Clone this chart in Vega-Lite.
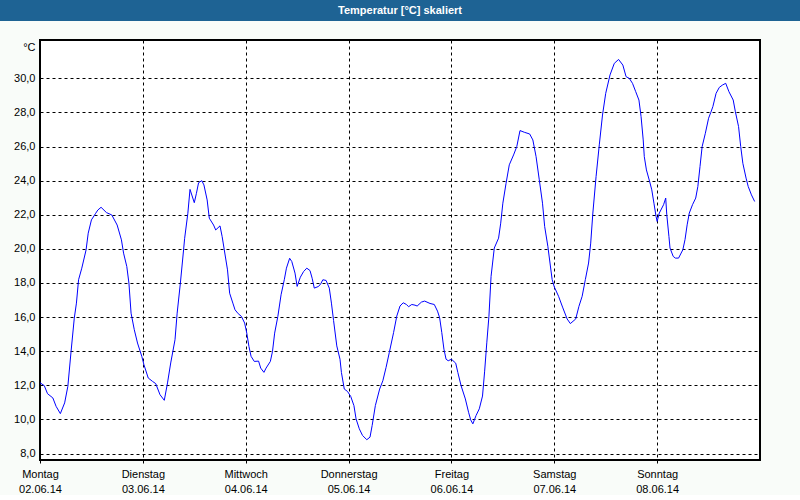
{
  "$schema": "https://vega.github.io/schema/vega-lite/v6.json",
  "padding": 0,
  "background": "#f9fcf9",
  "bounds": "flush",
  "spacing": 19,
  "config": {
    "font": "Liberation Sans",
    "view": {"stroke": null},
    "concat": {"spacing": 0}
  },
  "vconcat": [
    {
      "width": 800,
      "height": 21,
      "view": {"fill": "#1e6394", "stroke": null},
      "data": {"values": [{"titel": "Temperatur [°C] skaliert"}]},
      "mark": {"type": "text", "color": "white", "fontWeight": "bold", "fontSize": 11, "align": "center", "baseline": "middle"},
      "encoding": {"text": {"field": "titel"}}
    },
    {
      "bounds": "flush",
      "spacing": 0,
      "hconcat": [
        {
          "width": 40,
          "height": 420,
          "view": {"stroke": null},
          "data": {"values": [{"leer": ""}]},
          "mark": {"type": "text"},
          "encoding": {"text": {"field": "leer"}}
        },
        {
          "width": 720,
          "height": 420,
          "view": {"fill": "white", "stroke": "black", "strokeWidth": 2},
          "data": {"values": [
            {"t": "2014-06-02T00:00", "v": 12.15},
            {"t": "2014-06-02T01:00", "v": 11.98},
            {"t": "2014-06-02T01:45", "v": 11.51},
            {"t": "2014-06-02T03:00", "v": 11.26},
            {"t": "2014-06-02T03:45", "v": 10.77},
            {"t": "2014-06-02T04:45", "v": 10.34},
            {"t": "2014-06-02T05:45", "v": 10.97},
            {"t": "2014-06-02T06:30", "v": 11.94},
            {"t": "2014-06-02T07:15", "v": 13.99},
            {"t": "2014-06-02T08:00", "v": 15.94},
            {"t": "2014-06-02T08:30", "v": 16.82},
            {"t": "2014-06-02T09:00", "v": 18.19},
            {"t": "2014-06-02T09:45", "v": 18.87},
            {"t": "2014-06-02T10:45", "v": 19.94},
            {"t": "2014-06-02T11:15", "v": 20.92},
            {"t": "2014-06-02T12:00", "v": 21.70},
            {"t": "2014-06-02T13:00", "v": 22.09},
            {"t": "2014-06-02T13:30", "v": 22.28},
            {"t": "2014-06-02T14:15", "v": 22.44},
            {"t": "2014-06-02T15:30", "v": 22.13},
            {"t": "2014-06-02T16:45", "v": 21.99},
            {"t": "2014-06-02T18:00", "v": 21.40},
            {"t": "2014-06-02T19:00", "v": 20.53},
            {"t": "2014-06-02T19:30", "v": 19.75},
            {"t": "2014-06-02T20:15", "v": 18.97},
            {"t": "2014-06-02T20:45", "v": 17.99},
            {"t": "2014-06-02T21:15", "v": 16.23},
            {"t": "2014-06-02T22:00", "v": 15.26},
            {"t": "2014-06-02T22:45", "v": 14.48},
            {"t": "2014-06-02T23:45", "v": 13.70},
            {"t": "2014-06-03T00:15", "v": 13.21},
            {"t": "2014-06-03T01:15", "v": 12.43},
            {"t": "2014-06-03T02:15", "v": 12.23},
            {"t": "2014-06-03T03:00", "v": 12.10},
            {"t": "2014-06-03T04:00", "v": 11.45},
            {"t": "2014-06-03T05:00", "v": 11.12},
            {"t": "2014-06-03T05:45", "v": 12.14},
            {"t": "2014-06-03T06:30", "v": 13.31},
            {"t": "2014-06-03T07:30", "v": 14.67},
            {"t": "2014-06-03T08:00", "v": 16.23},
            {"t": "2014-06-03T08:45", "v": 17.98},
            {"t": "2014-06-03T09:30", "v": 19.94},
            {"t": "2014-06-03T09:45", "v": 20.62},
            {"t": "2014-06-03T10:30", "v": 22.09},
            {"t": "2014-06-03T11:00", "v": 23.49},
            {"t": "2014-06-03T12:00", "v": 22.71},
            {"t": "2014-06-03T12:30", "v": 23.26},
            {"t": "2014-06-03T13:00", "v": 23.88},
            {"t": "2014-06-03T13:45", "v": 24.00},
            {"t": "2014-06-03T14:15", "v": 23.75},
            {"t": "2014-06-03T15:00", "v": 22.87},
            {"t": "2014-06-03T15:30", "v": 21.80},
            {"t": "2014-06-03T16:30", "v": 21.40},
            {"t": "2014-06-03T17:00", "v": 21.11},
            {"t": "2014-06-03T18:00", "v": 21.35},
            {"t": "2014-06-03T18:30", "v": 20.72},
            {"t": "2014-06-03T19:00", "v": 19.94},
            {"t": "2014-06-03T19:45", "v": 18.77},
            {"t": "2014-06-03T20:15", "v": 17.40},
            {"t": "2014-06-03T21:00", "v": 16.82},
            {"t": "2014-06-03T21:30", "v": 16.43},
            {"t": "2014-06-03T22:15", "v": 16.20},
            {"t": "2014-06-03T23:00", "v": 16.04},
            {"t": "2014-06-03T23:45", "v": 15.65},
            {"t": "2014-06-04T00:15", "v": 15.06},
            {"t": "2014-06-04T00:45", "v": 14.28},
            {"t": "2014-06-04T01:15", "v": 13.70},
            {"t": "2014-06-04T02:00", "v": 13.40},
            {"t": "2014-06-04T03:00", "v": 13.42},
            {"t": "2014-06-04T03:30", "v": 13.01},
            {"t": "2014-06-04T04:15", "v": 12.76},
            {"t": "2014-06-04T04:45", "v": 13.01},
            {"t": "2014-06-04T05:45", "v": 13.40},
            {"t": "2014-06-04T06:15", "v": 13.99},
            {"t": "2014-06-04T06:45", "v": 15.06},
            {"t": "2014-06-04T07:30", "v": 16.04},
            {"t": "2014-06-04T08:15", "v": 17.31},
            {"t": "2014-06-04T09:00", "v": 18.19},
            {"t": "2014-06-04T09:30", "v": 18.87},
            {"t": "2014-06-04T10:15", "v": 19.45},
            {"t": "2014-06-04T10:45", "v": 19.26},
            {"t": "2014-06-04T11:30", "v": 18.58},
            {"t": "2014-06-04T12:00", "v": 17.80},
            {"t": "2014-06-04T12:45", "v": 18.34},
            {"t": "2014-06-04T13:30", "v": 18.67},
            {"t": "2014-06-04T14:15", "v": 18.87},
            {"t": "2014-06-04T15:00", "v": 18.73},
            {"t": "2014-06-04T15:30", "v": 18.28},
            {"t": "2014-06-04T16:00", "v": 17.70},
            {"t": "2014-06-04T17:00", "v": 17.80},
            {"t": "2014-06-04T17:30", "v": 17.95},
            {"t": "2014-06-04T18:00", "v": 18.19},
            {"t": "2014-06-04T18:45", "v": 18.15},
            {"t": "2014-06-04T19:30", "v": 17.70},
            {"t": "2014-06-04T20:00", "v": 16.82},
            {"t": "2014-06-04T20:30", "v": 15.80},
            {"t": "2014-06-04T21:15", "v": 14.31},
            {"t": "2014-06-04T22:00", "v": 13.53},
            {"t": "2014-06-04T22:20", "v": 12.75},
            {"t": "2014-06-04T23:00", "v": 11.78},
            {"t": "2014-06-04T23:45", "v": 11.64},
            {"t": "2014-06-05T00:30", "v": 11.35},
            {"t": "2014-06-05T01:15", "v": 10.81},
            {"t": "2014-06-05T01:45", "v": 10.03},
            {"t": "2014-06-05T02:30", "v": 9.45},
            {"t": "2014-06-05T03:15", "v": 9.06},
            {"t": "2014-06-05T04:15", "v": 8.81},
            {"t": "2014-06-05T05:00", "v": 8.96},
            {"t": "2014-06-05T05:30", "v": 9.64},
            {"t": "2014-06-05T06:15", "v": 10.81},
            {"t": "2014-06-05T07:15", "v": 11.78},
            {"t": "2014-06-05T08:00", "v": 12.27},
            {"t": "2014-06-05T08:45", "v": 13.05},
            {"t": "2014-06-05T09:30", "v": 13.92},
            {"t": "2014-06-05T10:30", "v": 15.09},
            {"t": "2014-06-05T11:15", "v": 16.06},
            {"t": "2014-06-05T12:00", "v": 16.65},
            {"t": "2014-06-05T12:45", "v": 16.84},
            {"t": "2014-06-05T13:30", "v": 16.74},
            {"t": "2014-06-05T14:00", "v": 16.61},
            {"t": "2014-06-05T14:45", "v": 16.74},
            {"t": "2014-06-05T15:30", "v": 16.70},
            {"t": "2014-06-05T16:00", "v": 16.65},
            {"t": "2014-06-05T17:00", "v": 16.88},
            {"t": "2014-06-05T17:45", "v": 16.94},
            {"t": "2014-06-05T19:00", "v": 16.80},
            {"t": "2014-06-05T20:00", "v": 16.74},
            {"t": "2014-06-05T20:45", "v": 16.35},
            {"t": "2014-06-05T21:15", "v": 15.96},
            {"t": "2014-06-05T21:45", "v": 15.09},
            {"t": "2014-06-05T22:15", "v": 14.12},
            {"t": "2014-06-05T22:45", "v": 13.53},
            {"t": "2014-06-05T23:15", "v": 13.44},
            {"t": "2014-06-06T00:00", "v": 13.53},
            {"t": "2014-06-06T01:00", "v": 13.30},
            {"t": "2014-06-06T01:30", "v": 12.75},
            {"t": "2014-06-06T02:15", "v": 11.98},
            {"t": "2014-06-06T03:15", "v": 11.20},
            {"t": "2014-06-06T04:00", "v": 10.42},
            {"t": "2014-06-06T04:30", "v": 9.97},
            {"t": "2014-06-06T05:00", "v": 9.74},
            {"t": "2014-06-06T05:45", "v": 10.23},
            {"t": "2014-06-06T06:30", "v": 10.62},
            {"t": "2014-06-06T07:15", "v": 11.37},
            {"t": "2014-06-06T07:45", "v": 12.83},
            {"t": "2014-06-06T08:15", "v": 14.49},
            {"t": "2014-06-06T08:45", "v": 16.05},
            {"t": "2014-06-06T09:15", "v": 18.39},
            {"t": "2014-06-06T10:00", "v": 20.05},
            {"t": "2014-06-06T11:00", "v": 20.63},
            {"t": "2014-06-06T11:30", "v": 21.51},
            {"t": "2014-06-06T12:00", "v": 22.68},
            {"t": "2014-06-06T12:45", "v": 23.85},
            {"t": "2014-06-06T13:30", "v": 24.93},
            {"t": "2014-06-06T14:30", "v": 25.51},
            {"t": "2014-06-06T15:15", "v": 26.00},
            {"t": "2014-06-06T16:00", "v": 26.94},
            {"t": "2014-06-06T17:00", "v": 26.84},
            {"t": "2014-06-06T18:15", "v": 26.74},
            {"t": "2014-06-06T19:00", "v": 26.39},
            {"t": "2014-06-06T19:45", "v": 25.41},
            {"t": "2014-06-06T20:30", "v": 24.05},
            {"t": "2014-06-06T21:15", "v": 22.68},
            {"t": "2014-06-06T21:45", "v": 21.32},
            {"t": "2014-06-06T22:30", "v": 20.15},
            {"t": "2014-06-06T23:00", "v": 19.17},
            {"t": "2014-06-06T23:30", "v": 18.20},
            {"t": "2014-06-07T00:00", "v": 17.77},
            {"t": "2014-06-07T01:00", "v": 17.22},
            {"t": "2014-06-07T02:00", "v": 16.54},
            {"t": "2014-06-07T03:00", "v": 15.89},
            {"t": "2014-06-07T03:45", "v": 15.62},
            {"t": "2014-06-07T05:00", "v": 15.89},
            {"t": "2014-06-07T05:45", "v": 16.63},
            {"t": "2014-06-07T06:30", "v": 17.22},
            {"t": "2014-06-07T07:15", "v": 18.20},
            {"t": "2014-06-07T08:00", "v": 19.17},
            {"t": "2014-06-07T08:30", "v": 20.34},
            {"t": "2014-06-07T09:00", "v": 22.10},
            {"t": "2014-06-07T09:45", "v": 24.24},
            {"t": "2014-06-07T10:30", "v": 26.10},
            {"t": "2014-06-07T11:15", "v": 27.85},
            {"t": "2014-06-07T12:00", "v": 29.12},
            {"t": "2014-06-07T13:00", "v": 30.20},
            {"t": "2014-06-07T14:00", "v": 30.88},
            {"t": "2014-06-07T15:00", "v": 31.11},
            {"t": "2014-06-07T16:00", "v": 30.78},
            {"t": "2014-06-07T16:45", "v": 30.10},
            {"t": "2014-06-07T17:30", "v": 30.00},
            {"t": "2014-06-07T18:15", "v": 29.71},
            {"t": "2014-06-07T19:00", "v": 29.22},
            {"t": "2014-06-07T19:45", "v": 28.73},
            {"t": "2014-06-07T20:15", "v": 27.76},
            {"t": "2014-06-07T20:45", "v": 26.39},
            {"t": "2014-06-07T21:00", "v": 25.41},
            {"t": "2014-06-07T21:30", "v": 24.63},
            {"t": "2014-06-07T22:15", "v": 23.95},
            {"t": "2014-06-07T22:45", "v": 23.46},
            {"t": "2014-06-07T23:15", "v": 22.68},
            {"t": "2014-06-07T23:45", "v": 21.90},
            {"t": "2014-06-08T00:00", "v": 21.61},
            {"t": "2014-06-08T00:30", "v": 22.10},
            {"t": "2014-06-08T01:30", "v": 22.59},
            {"t": "2014-06-08T02:00", "v": 22.98},
            {"t": "2014-06-08T02:15", "v": 22.00},
            {"t": "2014-06-08T02:45", "v": 20.73},
            {"t": "2014-06-08T03:00", "v": 20.05},
            {"t": "2014-06-08T03:45", "v": 19.56},
            {"t": "2014-06-08T04:15", "v": 19.46},
            {"t": "2014-06-08T05:00", "v": 19.46},
            {"t": "2014-06-08T06:00", "v": 19.95},
            {"t": "2014-06-08T06:30", "v": 20.54},
            {"t": "2014-06-08T07:00", "v": 21.41},
            {"t": "2014-06-08T07:30", "v": 22.10},
            {"t": "2014-06-08T08:15", "v": 22.59},
            {"t": "2014-06-08T09:00", "v": 22.98},
            {"t": "2014-06-08T09:30", "v": 23.66},
            {"t": "2014-06-08T10:00", "v": 24.83},
            {"t": "2014-06-08T10:30", "v": 26.00},
            {"t": "2014-06-08T11:15", "v": 26.78},
            {"t": "2014-06-08T12:00", "v": 27.66},
            {"t": "2014-06-08T12:30", "v": 27.99},
            {"t": "2014-06-08T13:00", "v": 28.34},
            {"t": "2014-06-08T13:45", "v": 29.12},
            {"t": "2014-06-08T14:30", "v": 29.47},
            {"t": "2014-06-08T15:15", "v": 29.61},
            {"t": "2014-06-08T16:00", "v": 29.71},
            {"t": "2014-06-08T16:45", "v": 29.22},
            {"t": "2014-06-08T17:45", "v": 28.73},
            {"t": "2014-06-08T18:15", "v": 28.05},
            {"t": "2014-06-08T19:00", "v": 27.17},
            {"t": "2014-06-08T19:30", "v": 26.00},
            {"t": "2014-06-08T20:00", "v": 25.02},
            {"t": "2014-06-08T20:45", "v": 24.15},
            {"t": "2014-06-08T21:15", "v": 23.66},
            {"t": "2014-06-08T22:00", "v": 23.17},
            {"t": "2014-06-08T22:45", "v": 22.78}
          ]},
          "mark": {"type": "line", "color": "#0000ff", "strokeWidth": 1, "clip": true},
          "encoding": {
            "x": {
              "field": "t",
              "type": "temporal",
              "scale": {"domain": [{"year": 2014, "month": 6, "date": 2}, {"year": 2014, "month": 6, "date": 9}], "nice": false},
              "axis": {
                "title": null,
                "domain": false,
                "values": [
                  {"year": 2014, "month": 6, "date": 2},
                  {"year": 2014, "month": 6, "date": 3},
                  {"year": 2014, "month": 6, "date": 4},
                  {"year": 2014, "month": 6, "date": 5},
                  {"year": 2014, "month": 6, "date": 6},
                  {"year": 2014, "month": 6, "date": 7},
                  {"year": 2014, "month": 6, "date": 8}
                ],
                "labelExpr": "[['Sonntag','Montag','Dienstag','Mittwoch','Donnerstag','Freitag','Samstag'][day(datum.value)], timeFormat(datum.value, '%d.%m.%y')]",
                "labelFont": "Liberation Sans",
                "labelFontSize": 11,
                "labelColor": "black",
                "labelLineHeight": 15,
                "labelPadding": 5,
                "labelAlign": "center",
                "labelFlush": false,
                "labelOverlap": false,
                "ticks": true,
                "tickSize": 3,
                "tickColor": "black",
                "grid": true,
                "gridColor": "black",
                "gridDash": [3, 3],
                "gridWidth": 1,
                "gridOpacity": 1
              }
            },
            "y": {
              "field": "v",
              "type": "quantitative",
              "scale": {"domain": [7.62, 32.25], "nice": false, "zero": false},
              "axis": {
                "title": "°C",
                "titleAngle": 0,
                "titleAlign": "right",
                "titleBaseline": "alphabetic",
                "titleX": -5,
                "titleY": 10,
                "titleFont": "Liberation Sans",
                "titleFontSize": 11,
                "titleFontWeight": "normal",
                "titleColor": "black",
                "domain": false,
                "ticks": false,
                "values": [8, 10, 12, 14, 16, 18, 20, 22, 24, 26, 28, 30],
                "labelExpr": "replace(format(datum.value, '.1f'), '.', ',')",
                "labelFont": "Liberation Sans",
                "labelFontSize": 11,
                "labelColor": "black",
                "labelPadding": 5,
                "grid": true,
                "gridColor": "black",
                "gridDash": [3, 3],
                "gridWidth": 1,
                "gridOpacity": 1
              }
            }
          }
        }
      ]
    }
  ]
}
